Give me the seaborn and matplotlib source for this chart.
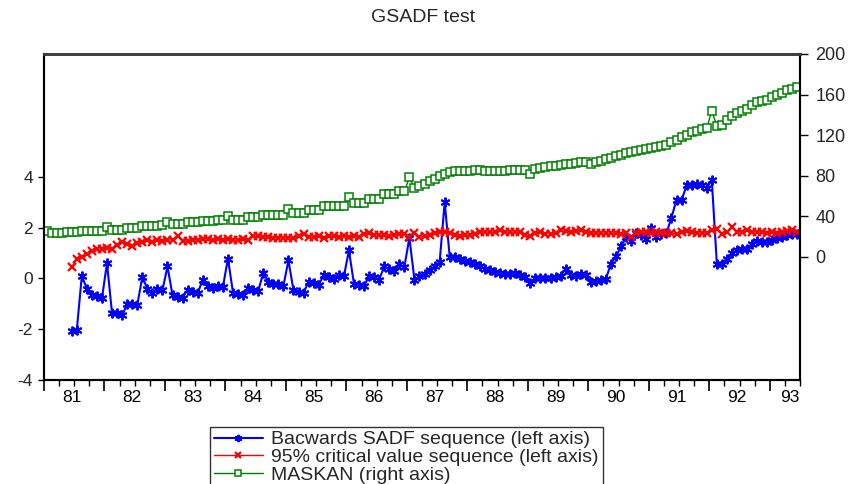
import numpy as np
import pandas as pd
import matplotlib
matplotlib.use("Agg")
import matplotlib.pyplot as plt
import seaborn as sns

# ---------------- data ----------------
year_labels = ["81", "82", "83", "84", "85", "86", "87", "88", "89", "90", "91", "92", "93"]
n_obs = 150          # monthly observations 1381M01 .. 1393M06
sadf_start = 5       # first month with a SADF value

sadf = [-2.09, -2.05, 0.09, -0.40, -0.67, -0.70, -0.78, 0.60, -1.38, -1.38,
        -1.45, -1.02, -1.02, -1.06, 0.05, -0.40, -0.56, -0.40, -0.47, 0.47,
        -0.67, -0.73, -0.76, -0.44, -0.54, -0.58, -0.05, -0.31, -0.37, -0.30,
        -0.34, 0.78, -0.56, -0.63, -0.67, -0.37, -0.44, -0.50, 0.21, -0.14,
        -0.21, -0.22, -0.30, 0.71, -0.47, -0.54, -0.56, -0.14, -0.18, -0.25,
        0.12, 0.05, -0.01, 0.15, 0.08, 1.10, -0.21, -0.28, -0.31, 0.10,
        0.05, -0.05, 0.47, 0.38, 0.29, 0.55, 0.45, 1.60, -0.05, 0.08,
        0.18, 0.34, 0.47, 0.64, 3.00, 0.84, 0.84, 0.78, 0.68, 0.64,
        0.55, 0.49, 0.38, 0.31, 0.25, 0.22, 0.18, 0.18, 0.21, 0.12,
        0.05, -0.18, 0.01, 0.03, 0.03, 0.03, 0.05, 0.08, 0.38, 0.12,
        0.08, 0.16, 0.12, -0.14, -0.10, -0.08, -0.01, 0.58, 0.87, 1.26,
        1.63, 1.47, 1.78, 1.69, 1.56, 2.00, 1.63, 1.73, 1.78, 2.39,
        3.10, 3.07, 3.66, 3.69, 3.73, 3.66, 3.57, 3.86, 0.58, 0.58,
        0.78, 1.00, 1.10, 1.17, 1.17, 1.37, 1.47, 1.43, 1.43, 1.52,
        1.60, 1.63, 1.69, 1.76, 1.76]

crit95 = [0.45, 0.75, 0.84, 0.97, 1.07, 1.17, 1.14, 1.21, 1.17, 1.30,
          1.43, 1.37, 1.27, 1.40, 1.43, 1.50, 1.43, 1.50, 1.47, 1.50,
          1.52, 1.65, 1.47, 1.47, 1.52, 1.52, 1.56, 1.56, 1.52, 1.55,
          1.52, 1.54, 1.52, 1.50, 1.56, 1.52, 1.65, 1.65, 1.63, 1.63,
          1.60, 1.60, 1.60, 1.58, 1.60, 1.66, 1.73, 1.63, 1.63, 1.66,
          1.60, 1.66, 1.66, 1.63, 1.67, 1.63, 1.66, 1.63, 1.73, 1.78,
          1.72, 1.69, 1.69, 1.65, 1.69, 1.76, 1.73, 1.63, 1.80, 1.63,
          1.65, 1.69, 1.78, 1.82, 1.82, 1.78, 1.69, 1.65, 1.69, 1.71,
          1.73, 1.82, 1.82, 1.82, 1.82, 1.89, 1.82, 1.82, 1.82, 1.82,
          1.69, 1.65, 1.78, 1.82, 1.76, 1.76, 1.78, 1.89, 1.86, 1.82,
          1.86, 1.89, 1.82, 1.78, 1.80, 1.78, 1.78, 1.78, 1.78, 1.73,
          1.78, 1.63, 1.78, 1.82, 1.82, 1.78, 1.82, 1.78, 1.78, 1.78,
          1.76, 1.82, 1.86, 1.82, 1.78, 1.78, 1.78, 1.89, 1.95, 1.73,
          1.82, 2.02, 1.84, 1.84, 1.89, 1.84, 1.82, 1.84, 1.78, 1.82,
          1.78, 1.82, 1.86, 1.89, 1.82]

maskan = [25.0, 23.4, 23.4, 23.4, 24.4, 24.4, 24.4, 25.7, 25.7, 25.7,
          25.7, 25.7, 29.0, 26.7, 26.7, 26.7, 28.3, 28.3, 28.3, 30.0,
          30.0, 30.6, 30.6, 31.6, 34.2, 32.3, 32.3, 32.3, 33.9, 33.9,
          33.9, 34.9, 34.9, 34.9, 35.9, 35.9, 39.8, 36.5, 36.5, 36.5,
          38.8, 38.8, 38.8, 40.8, 40.8, 40.8, 41.5, 41.5, 47.4, 43.2,
          43.2, 43.2, 46.4, 46.4, 46.4, 49.7, 49.7, 49.7, 50.5, 50.5,
          59.0, 53.0, 53.0, 53.0, 57.0, 57.0, 57.0, 62.2, 62.2, 62.2,
          64.5, 64.5, 78.3, 67.8, 70.1, 72.1, 74.4, 76.7, 79.3, 82.0,
          83.6, 84.3, 84.9, 84.9, 84.9, 85.2, 85.2, 84.6, 84.3, 84.3,
          84.3, 85.0, 85.2, 85.2, 85.9, 85.9, 82.0, 86.6, 87.6, 88.6,
          89.2, 89.2, 90.9, 91.5, 91.9, 92.5, 93.2, 93.2, 91.5, 93.2,
          94.2, 96.5, 97.5, 99.1, 100.7, 102.4, 103.0, 104.7, 105.0, 106.4,
          107.4, 108.3, 109.6, 110.6, 112.9, 115.6, 117.8, 120.5, 122.8, 124.4,
          125.8, 126.8, 144.2, 128.7, 130.4, 135.3, 139.3, 141.9, 144.2, 145.9,
          150.1, 152.8, 153.4, 154.4, 157.7, 160.0, 161.7, 164.2, 165.9, 167.6]

lab_sadf = "Bacwards SADF sequence (left axis)"
lab_cv = "95% critical value sequence (left axis)"
lab_mask = "MASKAN (right axis)"

# ---------------- frames ----------------
t_all = np.arange(n_obs)
t_sadf = np.arange(sadf_start, n_obs)
df_left = pd.DataFrame({"t": t_sadf, "sadf": sadf, "cv": crit95})
df_right = pd.DataFrame({"t": t_all, "maskan": maskan})

# ---------------- figure ----------------
sns.set_theme(style="white")
plt.rcParams["font.family"] = ["Liberation Sans", "DejaVu Sans"]

W, H = 852, 484
fig = plt.figure(figsize=(W / 100, H / 100), dpi=100)
L, R, B, T = 44, 800, 380, 54
ax = fig.add_axes([L / W, 1 - B / H, (R - L) / W, (B - T) / H])
ax2 = ax.twinx()

BLUE, RED, GREEN = "#0000ff", "#ff0000", "#008000"

sns.lineplot(data=df_left, x="t", y="sadf", ax=ax, color=BLUE, lw=1.5,
             marker=(6, 2, 0), markersize=7, markeredgewidth=1.4,
             markeredgecolor=BLUE, label=lab_sadf, legend=False)
sns.lineplot(data=df_left, x="t", y="cv", ax=ax, color=RED, lw=1.0,
             marker="x", markersize=5.5, markeredgewidth=1.6,
             markeredgecolor=RED, label=lab_cv, legend=False)
sns.lineplot(data=df_right, x="t", y="maskan", ax=ax2, color=GREEN, lw=1.0,
             marker="s", markersize=5.5, markeredgewidth=1.1,
             markerfacecolor="white", markeredgecolor=GREEN,
             label=lab_mask, legend=False)

ax.set_xlim(-0.5, n_obs - 0.5)
ax.set_ylim(-4, 8.83)
ax2.set_ylim(-121.5, 200)

ax.set_xlabel("")
ax.set_ylabel("")
ax2.set_ylabel("")

# x ticks: year boundaries (major), quarters (minor)
year_bounds = np.arange(-0.5, n_obs, 12)
quarter_bounds = np.arange(-0.5, n_obs + 0.5, 3)
ax.set_xticks(year_bounds)
ax.set_xticklabels([])
ax.set_xticks(quarter_bounds, minor=True)
ax.tick_params(axis="x", which="major", direction="out", length=8, width=1.2,
               color="black", bottom=True)
ax.tick_params(axis="x", which="minor", direction="out", length=4, width=1.0,
               color="black", bottom=True)
for k, lab in enumerate(year_labels):
    start = -0.5 + 12 * k
    end = min(start + 12, n_obs - 0.5)
    xc = (start + end) / 2 + (1.0 if k == len(year_labels) - 1 else -0.5)
    ax.text(xc, -17 / (B - T), lab, transform=ax.get_xaxis_transform(),
            ha="center", va="center", fontsize=12.5, color="black")

ax.set_yticks([-4, -2, 0, 2, 4])
ax.set_yticklabels(["-4", "-2", "0", "2", "4"])
ax.tick_params(axis="y", direction="out", length=4, width=1.0, color="black",
               labelsize=12.5, pad=4, left=True)
ax2.set_yticks([0, 40, 80, 120, 160, 200])
ax2.set_yticklabels(["0", "40", "80", "120", "160", "200"])
ax2.tick_params(axis="y", direction="out", length=6, width=1.0, color="black",
                labelsize=13, pad=5, right=True)

for a in (ax, ax2):
    for s in ("left", "right", "bottom"):
        a.spines[s].set_color("black")
        a.spines[s].set_linewidth(1.5)
    a.spines["top"].set_color("#404040")
    a.spines["top"].set_linewidth(2.0)
    a.grid(False)

# title
fig.text(423 / W, 1 - 18 / H, "GSADF test", ha="center", va="center", fontsize=14)

# legend
h1, l1 = ax.get_legend_handles_labels()
h2, l2 = ax2.get_legend_handles_labels()
leg = fig.legend(h1 + h2, l1 + l2, loc="upper left",
                 bbox_to_anchor=(210 / W, 1 - 427 / H),
                 bbox_transform=fig.transFigure, frameon=True, fancybox=False,
                 edgecolor="black", fontsize=14, handlelength=2.5,
                 handletextpad=0.45, borderpad=0.2, labelspacing=0.0,
                 borderaxespad=0, markerscale=0.75)
leg.get_frame().set_linewidth(1.0)

fig.savefig("out.png", dpi=100)
